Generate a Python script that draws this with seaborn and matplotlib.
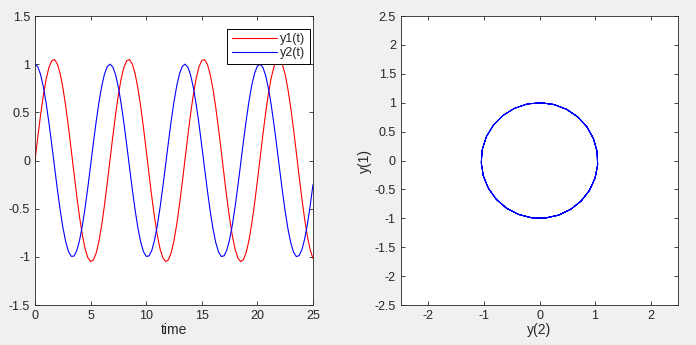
import numpy as np
import pandas as pd
import matplotlib
matplotlib.use('Agg')
import matplotlib.pyplot as plt
import seaborn as sns

# time samples (step 0.25) and the two solution components
t = [i * 0.25 for i in range(101)]

y1 = [0.000, 0.243, 0.472, 0.676, 0.843, 0.965, 1.034, 1.048, 1.005, 0.908,
      0.761, 0.573, 0.355, 0.117, -0.127, -0.365, -0.582, -0.768, -0.913, -1.008,
      -1.049, -1.033, -0.961, -0.837, -0.668, -0.462, -0.232, 0.011, 0.253, 0.482,
      0.684, 0.850, 0.969, 1.036, 1.047, 1.002, 0.902, 0.753, 0.564, 0.345,
      0.106, -0.138, -0.375, -0.591, -0.776, -0.918, -1.011, -1.049, -1.031, -0.956,
      -0.830, -0.659, -0.453, -0.222, 0.021, 0.263, 0.491, 0.692, 0.856, 0.973,
      1.038, 1.047, 0.999, 0.897, 0.746, 0.555, 0.334, 0.095, -0.149, -0.385,
      -0.600, -0.783, -0.923, -1.014, -1.049, -1.028, -0.952, -0.824, -0.651, -0.443,
      -0.211, 0.032, 0.274, 0.501, 0.700, 0.862, 0.977, 1.040, 1.046, 0.995,
      0.891, 0.738, 0.546, 0.324, 0.085, -0.159, -0.395, -0.609, -0.790, -0.928,
      -1.017]

y2 = [1.000, 0.973, 0.893, 0.765, 0.596, 0.394, 0.171, -0.061, -0.290, -0.503,
      -0.689, -0.838, -0.941, -0.994, -0.993, -0.938, -0.832, -0.682, -0.494, -0.280,
      -0.051, 0.182, 0.404, 0.604, 0.772, 0.898, 0.975, 1.000, 0.971, 0.889,
      0.759, 0.588, 0.385, 0.161, -0.071, -0.299, -0.512, -0.697, -0.843, -0.945,
      -0.995, -0.991, -0.934, -0.827, -0.674, -0.485, -0.270, -0.040, 0.192, 0.413,
      0.612, 0.778, 0.902, 0.978, 1.000, 0.968, 0.884, 0.752, 0.579, 0.376,
      0.151, -0.081, -0.309, -0.521, -0.704, -0.849, -0.948, -0.996, -0.990, -0.930,
      -0.821, -0.667, -0.476, -0.260, -0.030, 0.202, 0.422, 0.620, 0.785, 0.907,
      0.980, 1.000, 0.965, 0.879, 0.745, 0.571, 0.366, 0.141, -0.091, -0.319,
      -0.529, -0.711, -0.854, -0.951, -0.997, -0.988, -0.927, -0.815, -0.659, -0.467,
      -0.250]

df = pd.DataFrame({'t': t, 'y1': y1, 'y2': y2})

sns.set_style('white')
plt.rcParams['font.family'] = ['Liberation Sans', 'DejaVu Sans']
plt.rcParams['font.size'] = 9
plt.rcParams['axes.unicode_minus'] = False
plt.rcParams['axes.edgecolor'] = '#262626'
plt.rcParams['axes.linewidth'] = 0.6
plt.rcParams['xtick.color'] = '#262626'
plt.rcParams['ytick.color'] = '#262626'

fig = plt.figure(figsize=(6.96, 3.45), dpi=100, facecolor='#f0f0f0')
ax1 = fig.add_axes([0.0503, 0.1159, 0.3994, 0.8377])
ax2 = fig.add_axes([0.5757, 0.1159, 0.3989, 0.8377])

# left: time histories
sns.lineplot(data=df, x='t', y='y1', ax=ax1, color='red', lw=0.8, label='y1(t)')
sns.lineplot(data=df, x='t', y='y2', ax=ax1, color='blue', lw=0.8, label='y2(t)')
ax1.set_xlim(0, 25)
ax1.set_ylim(-1.5, 1.5)
ax1.set_xticks([0, 5, 10, 15, 20, 25])
ax1.set_yticks([-1.5, -1, -0.5, 0, 0.5, 1, 1.5])
ax1.set_yticklabels(['-1.5', '-1', '-0.5', '0', '0.5', '1', '1.5'])
ax1.set_xlabel('time', fontsize=10, color='#262626', labelpad=1)
ax1.set_ylabel('')
leg = ax1.legend(loc='upper right', bbox_to_anchor=(0.989, 0.955), borderaxespad=0,
                 fancybox=False, edgecolor='black', framealpha=1, fontsize=9,
                 handlelength=3.6, handletextpad=0.3, labelspacing=0.15,
                 borderpad=0.35)
leg.get_frame().set_linewidth(0.7)

# right: phase plane
sns.lineplot(data=df, x='y1', y='y2', ax=ax2, color='blue', lw=0.7,
             sort=False, estimator=None)
ax2.set_xlim(-2.5, 2.5)
ax2.set_ylim(-2.5, 2.5)
ax2.set_xticks([-2, -1, 0, 1, 2])
ax2.set_yticks([-2.5, -2, -1.5, -1, -0.5, 0, 0.5, 1, 1.5, 2, 2.5])
ax2.set_yticklabels(['-2.5', '-2', '-1.5', '-1', '-0.5', '0', '0.5', '1', '1.5', '2', '2.5'])
ax2.set_xlabel('y(2)', fontsize=10, color='#262626', labelpad=1)
ax2.set_ylabel('y(1)', fontsize=10, color='#262626', labelpad=2)

for ax in (ax1, ax2):
    ax.set_facecolor('white')
    ax.tick_params(direction='in', length=3, width=0.6, top=True, right=True,
                   bottom=True, left=True, labelsize=9, pad=3.5)
    for s in ax.spines.values():
        s.set_visible(True)

fig.savefig('out.png', dpi=100, facecolor=fig.get_facecolor())
